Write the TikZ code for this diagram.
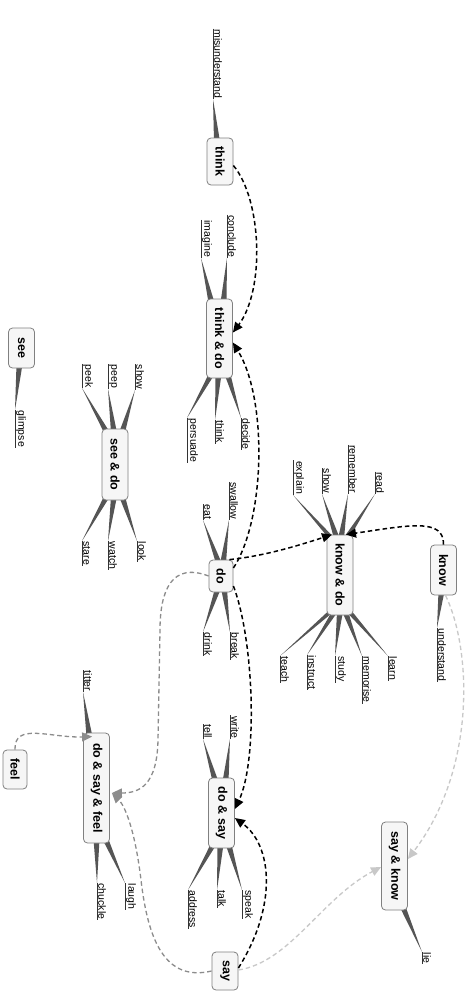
\documentclass[tikz,border=0pt]{standalone}
\usepackage{fontspec}
\setmainfont{Liberation Sans}
\usetikzlibrary{calc,arrows.meta,backgrounds}
\definecolor{wedgec}{HTML}{555555}
\definecolor{boxline}{HTML}{808080}
\definecolor{boxfill}{HTML}{F6F6F6}
\definecolor{midgray}{HTML}{8C8C8C}
\definecolor{lightgr}{HTML}{C8C8C8}
\tikzset{
  topic/.style={draw=boxline, fill=boxfill, rounded corners=4pt, line width=0.8pt,
    rotate=-90, font=\fontsize{12.5}{14}\selectfont\bfseries, minimum height=26pt, inner sep=1pt},
  leaf/.style={rotate=-90, font=\fontsize{10.5}{12}\selectfont, inner xsep=0.5pt, inner ysep=1pt},
  uline/.style={line width=0.6pt, draw=black!80},
  wedgefill/.style={fill=wedgec},
  blk/.style={draw=black, dash pattern=on 4.5pt off 3pt, line width=1.5pt,
    -{Triangle[length=10pt,width=9pt]}},
  gry/.style={draw=midgray, dash pattern=on 4.5pt off 3pt, line width=1.3pt,
    -{Triangle[length=10pt,width=9pt]}},
  lgry/.style={draw=lightgr, dash pattern=on 4.5pt off 3pt, line width=1.3pt,
    -{Triangle[length=10pt,width=9pt]}}
}
% leaf above its topic: #1 name, #2 topic, #3 base dx, #4 tip x, #5 tip y, #6 text
\newcommand\leafup[6]{%
  \node[leaf, anchor=south east] (#1) at (#4,#5) {#6};
  \draw[uline] (#1.south west) -- (#1.south east);
  \begin{pgfonlayer}{background}
    \fill[wedgefill] ($(#2.west)+(#3-3,4)$) -- ($(#2.west)+(#3+3,4)$) -- (#1.south east) -- cycle;
  \end{pgfonlayer}}
% leaf below its topic
\newcommand\leafdown[6]{%
  \node[leaf, anchor=south west] (#1) at (#4,#5) {#6};
  \draw[uline] (#1.south west) -- (#1.south east);
  \begin{pgfonlayer}{background}
    \fill[wedgefill] ($(#2.east)+(#3-3,-4)$) -- ($(#2.east)+(#3+3,-4)$) -- (#1.south west) -- cycle;
  \end{pgfonlayer}}
\begin{document}
\begin{tikzpicture}[x=1pt,y=-1pt]
\begin{pgfonlayer}{background}
\fill[white] (0,0) rectangle (468,998);
\end{pgfonlayer}
\useasboundingbox (0,0) rectangle (468,998);

% topics
\node[topic, minimum width=47pt] (think) at (220,161.5) {think};
\node[topic, minimum width=79pt] (tad) at (219.5,338.5) {think \& do};
\node[topic, minimum width=40pt] (see) at (21.5,348) {see};
\node[topic, minimum width=71pt] (sad) at (115,464.5) {see \& do};
\node[topic, minimum width=32pt, minimum height=24pt] (do) at (221,576) {do};
\node[topic, minimum width=80pt] (kad) at (340,575) {know \& do};
\node[topic, minimum width=50pt] (know) at (443.5,570) {know};
\node[topic, minimum width=70pt] (das) at (221.5,813) {do \& say};
\node[topic, minimum width=110pt] (dsf) at (96.5,788) {do \& say \& feel};
\node[topic, minimum width=39pt, minimum height=24pt] (feel) at (15,769.5) {feel};
\node[topic, minimum width=88pt] (sak) at (394.5,866) {say \& know};
\node[topic, minimum width=38pt] (say) at (225,971) {say};

% leaves
\leafup{l1}{think}{-3}{213}{99}{misunderstand}
\leafup{l2}{tad}{-8}{201}{258}{imagine}
\leafup{l3}{tad}{4}{227}{258}{conclude}
\leafdown{l4}{tad}{-8}{187}{418}{persuade}
\leafdown{l5}{tad}{-1}{215}{420}{think}
\leafdown{l6}{tad}{8}{241}{418}{decide}
\leafdown{l7}{see}{-2}{15}{410}{glimpse}
\leafup{l8}{sad}{-8}{82}{388}{peek}
\leafup{l9}{sad}{-1}{108}{389}{peep}
\leafup{l10}{sad}{7}{135}{390}{show}
\leafdown{l11}{sad}{-8}{82}{541}{stare}
\leafdown{l12}{sad}{-1}{108}{541}{watch}
\leafdown{l13}{sad}{7}{137}{541}{look}
\leafup{l14}{do}{-2}{203}{520}{eat}
\leafup{l15}{do}{2}{229}{520}{swallow}
\leafdown{l16}{do}{-3}{203}{632}{drink}
\leafdown{l17}{do}{3}{230}{632}{break}
\leafup{l18}{kad}{-8}{293}{495}{explain}
\leafup{l19}{kad}{-3}{322}{494}{show}
\leafup{l20}{kad}{1}{348}{494}{remember}
\leafup{l21}{kad}{6}{375}{494}{read}
\leafdown{l22}{kad}{-9}{280}{656}{teach}
\leafdown{l23}{kad}{-5}{307}{655}{instruct}
\leafdown{l24}{kad}{0}{335}{656}{study}
\leafdown{l25}{kad}{5}{362}{656}{memorise}
\leafdown{l26}{kad}{9}{388}{656}{learn}
\leafdown{l27}{know}{-2}{437}{628}{understand}
\leafup{l28}{das}{-6}{203}{739}{tell}
\leafup{l29}{das}{4}{230}{739}{write}
\leafdown{l30}{das}{-8}{188}{890}{address}
\leafdown{l31}{das}{-1}{217}{890}{talk}
\leafdown{l32}{das}{7}{242}{890}{speak}
\leafup{l33}{dsf}{-7}{83}{692}{titter}
\leafdown{l34}{dsf}{0}{97}{883}{chuckle}
\leafdown{l35}{dsf}{9}{125}{883}{laugh}
\leafdown{l36}{sak}{8}{422}{952}{lie}

% connectors
\draw[blk] ($(think.north)+(0,4)$) .. controls (262,200) and (265,290) .. ($(tad.north)+(0,-6)$);
\draw[blk] ($(do.north)+(0,-8)$) .. controls (265,520) and (268,400) .. ($(tad.north)+(0,4)$);
\draw[blk] ($(do.north west)+(-4,0)$) .. controls (265,556) and (300,545) .. ($(kad.west)+(-8,0)$);
\draw[blk] (know.west) .. controls (444,518) and (410,525) .. ($(kad.west)+(6,0)$);
\draw[blk] ($(do.north)+(0,10)$) .. controls (254,640) and (258,760) .. ($(das.north)+(0,-4)$);
\draw[blk] ($(say.north)+(0,-3)$) .. controls (278,905) and (272,845) .. ($(das.north)+(0,5)$);
\draw[gry] (do.south) .. controls (172,562) and (160,590) .. (160,630) -- (158,740)
   .. controls (157,785) and (140,793) .. ($(dsf.north)+(2,5)$);
\draw[gry] (feel.west) .. controls (14,722) and (50,738) .. ($(dsf.south west)+(9,4)$);
\draw[gry] (say.south) .. controls (165,982) and (148,940) .. (141,880)
   .. controls (135,830) and (125,806) .. ($(dsf.north)+(2,5)$);
\draw[lgry] ($(know.east)+(2,0)$) .. controls (472,650) and (476,770) .. ($(sak.north)+(0,-7)$);
\draw[lgry] ($(say.north)+(0,-1)$) .. controls (290,962) and (322,898) .. ($(sak.south)+(0,1)$);
\end{tikzpicture}
\end{document}
